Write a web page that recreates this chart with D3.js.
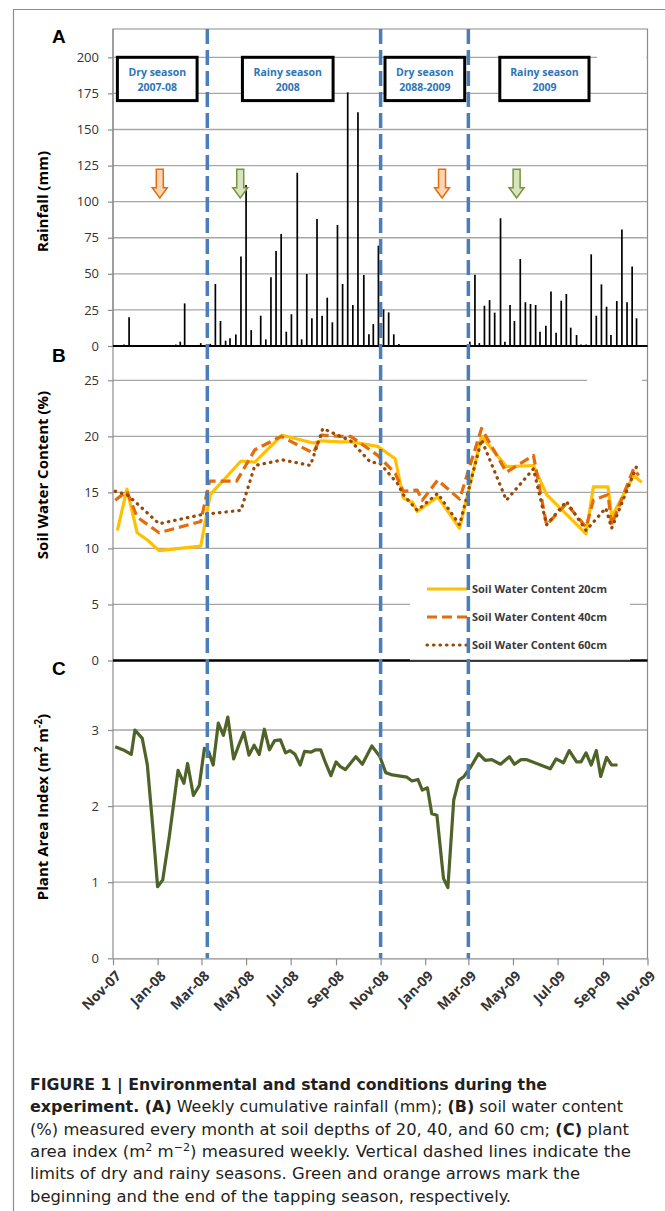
<!DOCTYPE html>
<html>
<head>
<meta charset="utf-8">
<script src="https://cdn.jsdelivr.net/npm/d3@7"></script>
<style>
  body { margin: 0; background: #fff; }
  svg { display: block; }
</style>
</head>
<body>
<svg id="fig" width="665" height="1211"></svg>
<script>
const parse = d3.timeParse("%Y-%m-%d");

//data: weekly rainfall (mm)
const rainfall = [
  ["2007-11-16", 1], ["2007-11-23", 20], ["2008-01-26", 1], ["2008-02-01", 3], ["2008-02-07", 29.5],
  ["2008-02-29", 2], ["2008-03-13", 1.5], ["2008-03-20", 43], ["2008-03-27", 17.3], ["2008-04-03", 3.7],
  ["2008-04-09", 5.3], ["2008-04-17", 8], ["2008-04-24", 62], ["2008-05-01", 111.5], ["2008-05-08", 11],
  ["2008-05-21", 21], ["2008-05-28", 4.6], ["2008-06-04", 47.6], ["2008-06-11", 65.8], ["2008-06-18", 77.6],
  ["2008-06-25", 9.9], ["2008-07-02", 22], ["2008-07-10", 120], ["2008-07-16", 4.6], ["2008-07-23", 49.9],
  ["2008-07-30", 19.2], ["2008-08-06", 88], ["2008-08-13", 21], ["2008-08-20", 33.5], ["2008-08-27", 16.4],
  ["2008-09-03", 83.8], ["2008-09-10", 43], ["2008-09-17", 175.7], ["2008-09-24", 28.4], ["2008-10-01", 161.9],
  ["2008-10-09", 49.2], ["2008-10-16", 8.1], ["2008-10-22", 15.2], ["2008-10-29", 69.5], ["2008-11-05", 25.4],
  ["2008-11-12", 23.3], ["2008-11-19", 8.1], ["2008-11-26", 1.4], ["2008-12-31", 0.7], ["2009-01-28", 0.7],
  ["2009-02-16", 0.7], ["2009-03-03", 3], ["2009-03-10", 49.3], ["2009-03-16", 2], ["2009-03-23", 27.9],
  ["2009-03-30", 31.8], ["2009-04-06", 23.1], ["2009-04-14", 88.5], ["2009-04-20", 3], ["2009-04-27", 28.4],
  ["2009-05-03", 17.3], ["2009-05-11", 60.3], ["2009-05-18", 30.3], ["2009-05-25", 29.1], ["2009-06-01", 28.4],
  ["2009-06-07", 9.9], ["2009-06-15", 14.1], ["2009-06-22", 37.7], ["2009-06-29", 9.2], ["2009-07-06", 31.4],
  ["2009-07-13", 36], ["2009-07-19", 12.7], ["2009-07-27", 7.6], ["2009-08-02", 1], ["2009-08-09", 1],
  ["2009-08-16", 63.5], ["2009-08-23", 21], ["2009-08-30", 42.7], ["2009-09-06", 27.2], ["2009-09-12", 7.6],
  ["2009-09-20", 31.2], ["2009-09-27", 80.7], ["2009-10-04", 30.3], ["2009-10-11", 55], ["2009-10-17", 19.2]
];

//soil water content (%)
const swc20 = [
  ["2007-11-07", 11.6], ["2007-11-20", 15.3], ["2007-12-04", 11.4], ["2007-12-18", 10.75], ["2008-01-03", 9.8],
  ["2008-02-29", 10.2], ["2008-03-13", 14.8], ["2008-04-24", 17.8], ["2008-05-13", 17.7], ["2008-06-19", 20.1],
  ["2008-08-01", 19.4], ["2008-08-12", 19.6], ["2008-09-07", 19.5], ["2008-09-21", 19.5], ["2008-10-28", 19.1],
  ["2008-11-21", 18.0], ["2008-12-02", 14.5], ["2008-12-15", 14.1], ["2008-12-21", 13.3], ["2009-01-18", 14.6],
  ["2009-02-17", 11.8], ["2009-03-19", 20.0], ["2009-04-22", 17.3], ["2009-05-29", 17.4], ["2009-06-16", 14.8],
  ["2009-08-09", 11.3], ["2009-08-19", 15.5], ["2009-09-08", 15.5], ["2009-09-13", 12.8], ["2009-10-13", 16.5],
  ["2009-10-24", 15.9]
];
const swc40 = [
  ["2007-11-04", 14.3], ["2007-11-20", 15.1], ["2007-12-04", 12.8], ["2008-01-03", 11.4], ["2008-02-29", 12.4],
  ["2008-03-12", 16.0], ["2008-04-18", 16.0], ["2008-05-13", 18.8], ["2008-06-18", 20.0], ["2008-08-01", 18.5],
  ["2008-08-12", 20.1], ["2008-09-07", 20.0], ["2008-09-21", 20.0], ["2008-10-28", 18.3], ["2008-11-21", 16.7],
  ["2008-12-02", 15.1], ["2008-12-21", 15.2], ["2008-12-28", 14.3], ["2009-01-18", 16.1], ["2009-02-17", 14.4],
  ["2009-03-19", 20.7], ["2009-04-22", 16.8], ["2009-05-29", 18.3], ["2009-06-16", 12.1], ["2009-07-13", 14.0],
  ["2009-08-09", 11.9], ["2009-08-19", 14.3], ["2009-09-08", 14.8], ["2009-09-13", 12.1], ["2009-10-13", 17.1],
  ["2009-10-20", 16.5]
];
const swc60 = [
  ["2007-11-04", 15.1], ["2007-11-20", 14.8], ["2007-12-04", 14.0], ["2008-01-03", 12.2], ["2008-02-29", 13.0],
  ["2008-04-24", 13.4], ["2008-05-13", 17.4], ["2008-06-20", 17.9], ["2008-07-28", 17.4], ["2008-08-14", 20.7],
  ["2008-09-07", 20.0], ["2008-09-21", 19.6], ["2008-10-18", 17.7], ["2008-10-31", 17.6], ["2008-11-24", 15.8],
  ["2008-12-02", 14.8], ["2008-12-21", 13.4], ["2009-01-18", 14.9], ["2009-02-17", 12.1], ["2009-03-19", 19.7],
  ["2009-04-22", 14.3], ["2009-05-29", 17.1], ["2009-06-16", 12.1], ["2009-07-13", 14.2], ["2009-08-09", 11.6],
  ["2009-09-05", 13.6], ["2009-09-13", 11.8], ["2009-10-17", 17.3]
];

//plant area index (m2 m-2), weekly
const pai = [
  ["2007-11-04", 2.78], ["2007-11-17", 2.73], ["2007-11-26", 2.68], ["2007-12-01", 3.0], ["2007-12-11", 2.89],
  ["2007-12-18", 2.54], ["2007-12-25", 1.77], ["2008-01-01", 0.94], ["2008-01-08", 1.03], ["2008-01-17", 1.60],
  ["2008-01-29", 2.47], ["2008-02-06", 2.30], ["2008-02-11", 2.56], ["2008-02-19", 2.14], ["2008-02-27", 2.27],
  ["2008-03-05", 2.76], ["2008-03-11", 2.71], ["2008-03-17", 2.54], ["2008-03-24", 3.09], ["2008-03-31", 2.93],
  ["2008-04-06", 3.17], ["2008-04-14", 2.62], ["2008-04-21", 2.80], ["2008-04-28", 2.97], ["2008-05-05", 2.67],
  ["2008-05-12", 2.80], ["2008-05-19", 2.68], ["2008-05-26", 3.01], ["2008-06-02", 2.74], ["2008-06-09", 2.86],
  ["2008-06-17", 2.87], ["2008-06-24", 2.70], ["2008-06-30", 2.73], ["2008-07-07", 2.68], ["2008-07-14", 2.54],
  ["2008-07-20", 2.72], ["2008-07-29", 2.71], ["2008-08-04", 2.74], ["2008-08-11", 2.74], ["2008-08-18", 2.56],
  ["2008-08-25", 2.40], ["2008-09-01", 2.58], ["2008-09-07", 2.52], ["2008-09-14", 2.48], ["2008-09-28", 2.65],
  ["2008-10-07", 2.55], ["2008-10-20", 2.79], ["2008-10-31", 2.65], ["2008-11-08", 2.44], ["2008-11-17", 2.41],
  ["2008-12-07", 2.38], ["2008-12-14", 2.33], ["2008-12-22", 2.35], ["2008-12-28", 2.21], ["2009-01-04", 2.24],
  ["2009-01-10", 1.90], ["2009-01-17", 1.88], ["2009-01-26", 1.05], ["2009-02-01", 0.93], ["2009-02-09", 2.08],
  ["2009-02-16", 2.34], ["2009-02-23", 2.39], ["2009-03-04", 2.51], ["2009-03-15", 2.69], ["2009-03-24", 2.60],
  ["2009-04-02", 2.61], ["2009-04-14", 2.55], ["2009-04-26", 2.65], ["2009-05-03", 2.55], ["2009-05-12", 2.61],
  ["2009-05-20", 2.61], ["2009-06-21", 2.49], ["2009-06-29", 2.62], ["2009-07-09", 2.57], ["2009-07-17", 2.73],
  ["2009-07-27", 2.58], ["2009-08-02", 2.58], ["2009-08-09", 2.70], ["2009-08-16", 2.54], ["2009-08-23", 2.73],
  ["2009-08-29", 2.39], ["2009-09-06", 2.64], ["2009-09-13", 2.54], ["2009-09-21", 2.54]
];

//tick values, seasons, arrows
const rainTicks = [0, 25, 50, 75, 100, 125, 150, 175, 200];
const swcTicks = [0, 5, 10, 15, 20, 25];
const paiTicks = [0, 1, 2, 3];
const seasonLimits = ["2008-03-09", "2008-11-01", "2009-03-01"];
const seasonLabels = [["Dry season", "2007-08"], ["Rainy season", "2008"], ["Dry season", "2088-2009"], ["Rainy season", "2009"]];
const seasonStart = ["2007-11-07", "2008-04-26", "2008-11-07", "2009-04-13"];
const seasonEnd = ["2008-02-24", "2008-08-28", "2009-02-24", "2009-08-13"];
const tappingEnd = ["2008-01-04", "2009-01-24"];
const tappingStart = ["2008-04-23", "2009-05-06"];
const legendNames = ["Soil Water Content 20cm", "Soil Water Content 40cm", "Soil Water Content 60cm"];

//window setting
const svg = d3.select("#fig");
const left = 113, right = 647.5;
const x = d3.scaleTime().domain([parse("2007-11-01"), parse("2009-11-01")]).range([left, right]);
const yA = d3.scaleLinear().domain([0, 200]).range([346, 57.3]);
const yB = d3.scaleLinear().domain([0, 25]).range([660.5, 380.3]);
const yC = d3.scaleLinear().domain([0, 3]).range([958.3, 730]);
const gridColor = "#a6a6a6";
const tickFont = "13px 'Open Sans', sans-serif";

//figure border
svg.append("path").attr("d", "M13.5,1211V9.5H665").attr("fill", "none").attr("stroke", "#8c8c8c").attr("stroke-width", 1.2);

//gridlines
const grid = (y, ticks) => {
  svg.append("g").selectAll("line").data(ticks).join("line")
    .attr("x1", left).attr("x2", right)
    .attr("y1", (d) => y(d)).attr("y2", (d) => y(d))
    .attr("stroke", gridColor).attr("stroke-width", 1.3);
};
grid(yA, rainTicks.filter((d) => d > 0));
grid(yB, swcTicks.filter((d) => d > 0));
grid(yC, paiTicks.filter((d) => d > 0));
// gaps in the original gridlines
svg.append("rect").attr("x", 597).attr("y", yA(200) - 2).attr("width", right - 597 - 1).attr("height", 4).attr("fill", "#fff");
svg.append("rect").attr("x", 587).attr("y", yB(25) - 2).attr("width", 55).attr("height", 4).attr("fill", "#fff");

//frames
svg.append("path").attr("d", `M${left},${yA(0)}V29H${right}V${yC(0)}`)
  .attr("fill", "none").attr("stroke", "#8c8c8c").attr("stroke-width", 1.2);

//y axes
const yAxis = (y, ticks) => {
  const g = svg.append("g").attr("transform", `translate(${left},0)`)
    .call(d3.axisLeft(y).tickValues(ticks).tickSize(5).tickPadding(9).tickFormat(d3.format("d")));
  g.select(".domain").remove();
  g.selectAll(".tick line").attr("stroke", "#8c8c8c").attr("stroke-width", 1.2);
  g.selectAll(".tick text").attr("fill", "#333").style("font", tickFont);
};
yAxis(yA, rainTicks);
yAxis(yB, swcTicks);
yAxis(yC, paiTicks);
svg.append("line").attr("x1", left).attr("x2", left).attr("y1", 29).attr("y2", yC(0))
  .attr("stroke", "#8c8c8c").attr("stroke-width", 1.2);

//x axis
const monthTicks = d3.timeMonth.every(2).range(parse("2007-11-01"), parse("2009-11-02"));
const xg = svg.append("g").attr("transform", `translate(0,${yC(0)})`)
  .call(d3.axisBottom(x).tickValues(monthTicks).tickSize(7).tickSizeOuter(0).tickFormat(d3.timeFormat("%b-%y")));
xg.select(".domain").attr("stroke", "#8c8c8c").attr("stroke-width", 1.2);
xg.selectAll(".tick line").attr("stroke", "#8c8c8c").attr("stroke-width", 1.2);
xg.selectAll(".tick text")
  .attr("x", 0).attr("y", 0).attr("dy", "0.35em")
  .attr("transform", "translate(5,15) rotate(-45)")
  .attr("text-anchor", "end")
  .attr("fill", "#333")
  .style("font", "bold 14px 'Open Sans', sans-serif");

//legend background
const legendX = 410, legendY = 569;
svg.append("rect").attr("x", legendX).attr("y", legendY).attr("width", 220).attr("height", yB(0) - legendY).attr("fill", "#fff");

//A: rainfall bars
svg.append("g").selectAll("line").data(rainfall).join("line")
  .attr("x1", (d) => x(parse(d[0]))).attr("x2", (d) => x(parse(d[0])))
  .attr("y1", yA(0)).attr("y2", (d) => yA(d[1]))
  .attr("stroke", "#000").attr("stroke-width", 1.7);

//B: soil water content lines
const lineB = d3.line().x((d) => x(parse(d[0]))).y((d) => yB(d[1]));
const swcSeries = [
  { data: swc20, color: "#FFC000", dash: null, cap: "butt" },
  { data: swc40, color: "#E46C0A", dash: "10,5", cap: "butt" },
  { data: swc60, color: "#984807", dash: "0.5,6", cap: "round" },
];
swcSeries.forEach((s) => {
  svg.append("path").datum(s.data).attr("d", lineB)
    .attr("fill", "none").attr("stroke", s.color).attr("stroke-width", 3.2)
    .attr("stroke-dasharray", s.dash).attr("stroke-linecap", s.cap).attr("stroke-linejoin", "round");
});

//C: plant area index
const lineC = d3.line().x((d) => x(parse(d[0]))).y((d) => yC(d[1]));
svg.append("path").datum(pai).attr("d", lineC)
  .attr("fill", "none").attr("stroke", "#4F6228").attr("stroke-width", 3.2).attr("stroke-linejoin", "round");

//zero lines of A and B
svg.append("line").attr("x1", left).attr("x2", right).attr("y1", yA(0)).attr("y2", yA(0)).attr("stroke", "#000").attr("stroke-width", 2.2);
svg.append("line").attr("x1", left).attr("x2", right).attr("y1", yB(0)).attr("y2", yB(0)).attr("stroke", "#000").attr("stroke-width", 2.6);
svg.append("rect").attr("x", legendX).attr("y", yB(0) - 1.3).attr("width", 220).attr("height", 1).attr("fill", "#fff");

//legend
const lg = svg.append("g").selectAll("g").data(swcSeries).join("g")
  .attr("transform", (d, i) => `translate(${legendX + 17},${589 + i * 28})`);
lg.append("line").attr("x1", 0).attr("x2", 40)
  .attr("stroke", (d) => d.color).attr("stroke-width", 3.2)
  .attr("stroke-dasharray", (d) => d.dash).attr("stroke-linecap", (d) => d.cap);
lg.append("text").attr("x", 45).attr("dy", "0.35em")
  .attr("fill", "#3a3a3a").style("font", "bold 11px 'Open Sans', sans-serif")
  .text((d, i) => legendNames[i]);

//season limits
svg.append("g").selectAll("line").data(seasonLimits).join("line")
  .attr("x1", (d) => x(parse(d))).attr("x2", (d) => x(parse(d)))
  .attr("y1", 29).attr("y2", yC(0))
  .attr("stroke", "#4A7EBB").attr("stroke-width", 3.5).attr("stroke-dasharray", "15,6");

//season boxes
const boxes = svg.append("g").selectAll("g").data(seasonLabels).join("g");
boxes.append("rect")
  .attr("x", (d, i) => x(parse(seasonStart[i])))
  .attr("y", yA(200))
  .attr("width", (d, i) => x(parse(seasonEnd[i])) - x(parse(seasonStart[i])))
  .attr("height", yA(170) - yA(200))
  .attr("fill", "#fff").attr("stroke", "#000").attr("stroke-width", 3);
boxes.append("text")
  .attr("x", (d, i) => (x(parse(seasonStart[i])) + x(parse(seasonEnd[i]))) / 2)
  .attr("y", yA(185))
  .attr("text-anchor", "middle")
  .attr("fill", "#2E75B6").style("font", "bold 10.5px 'Open Sans', sans-serif")
  .selectAll("tspan").data((d) => d).join("tspan")
  .attr("x", function () { return this.parentNode.getAttribute("x"); })
  .attr("dy", (d, i) => (i === 0 ? "-0.25em" : "1.35em"))
  .text((d) => d);

//tapping arrows
const arrow = (date, stroke, fill) => {
  const cx = x(parse(date)), top = yA(122.5), bottom = yA(102.5);
  const neck = top + (bottom - top) * 0.64;
  svg.append("path")
    .attr("d", `M${cx - 3.5},${top}H${cx + 3.5}V${neck}H${cx + 7.5}L${cx},${bottom}L${cx - 7.5},${neck}H${cx - 3.5}Z`)
    .attr("fill", fill).attr("stroke", stroke).attr("stroke-width", 1.5).attr("stroke-linejoin", "miter");
};
tappingEnd.forEach((d) => arrow(d, "#E46C0A", "#FCD5B5"));
tappingStart.forEach((d) => arrow(d, "#77933C", "#D7E4BD"));

//axis titles and panel letters
const titleFont = "bold 15px 'Open Sans', sans-serif";
svg.append("text").attr("transform", `translate(43,${(yA(0) + 57) / 2}) rotate(-90)`)
  .attr("text-anchor", "middle").attr("dy", "0.35em").style("font", titleFont).attr("fill", "#000")
  .text("Rainfall (mm)");
svg.append("text").attr("transform", `translate(43,475) rotate(-90)`)
  .attr("text-anchor", "middle").attr("dy", "0.35em").style("font", titleFont).attr("fill", "#000")
  .text("Soil Water Content (%)");
const paiTitle = svg.append("text").attr("transform", `translate(43,807) rotate(-90)`)
  .attr("text-anchor", "middle").attr("dy", "0.35em").style("font", titleFont).attr("fill", "#000");
paiTitle.append("tspan").text("Plant Area Index (m");
paiTitle.append("tspan").attr("dy", -6).style("font-size", "10px").text("2");
paiTitle.append("tspan").attr("dy", 6).text(" m");
paiTitle.append("tspan").attr("dy", -6).style("font-size", "10px").text("-2");
paiTitle.append("tspan").attr("dy", 6).text(")");

svg.append("g").selectAll("text").data([["A", 43], ["B", 362], ["C", 675]]).join("text")
  .attr("x", 52).attr("y", (d) => d[1])
  .style("font", "bold 19px 'Liberation Sans', Arial, sans-serif").attr("fill", "#000")
  .text((d) => d[0]);

//caption
const caption = [
  [["FIGURE 1 | Environmental and stand conditions during the", "b"]],
  [["experiment. ", "b"], ["(A)", "b"], [" Weekly cumulative rainfall (mm); "], ["(B)", "b"], [" soil water content"]],
  [["(%) measured every month at soil depths of 20, 40, and 60 cm; "], ["(C)", "b"], [" plant"]],
  [["area index (m"], ["2", "sup"], [" m"], ["\u22122", "sup"], [") measured weekly. Vertical dashed lines indicate the"]],
  [["limits of dry and rainy seasons. Green and orange arrows mark the"]],
  [["beginning and the end of the tapping season, respectively."]],
];
const captionWidths = [517, 593, 599, 601, 550, 481];
caption.forEach((line, i) => {
  const t = svg.append("text").attr("x", 30).attr("y", 1090 + i * 22.3)
    .attr("textLength", captionWidths[i]).attr("lengthAdjust", "spacingAndGlyphs")
    .attr("fill", "#231f20")
    .style("font", "16.5px 'Liberation Sans Narrow', 'DejaVu Sans Condensed', sans-serif");
  let shifted = false;
  line.forEach((seg) => {
    const sp = t.append("tspan").text(seg[0]);
    if (seg[1] === "b") sp.attr("font-weight", "bold");
    if (seg[1] === "sup") {
      sp.attr("dy", -6).style("font-size", "11px");
      shifted = true;
    } else if (shifted) {
      sp.attr("dy", 6);
      shifted = false;
    }
  });
});
</script>
</body>
</html>
